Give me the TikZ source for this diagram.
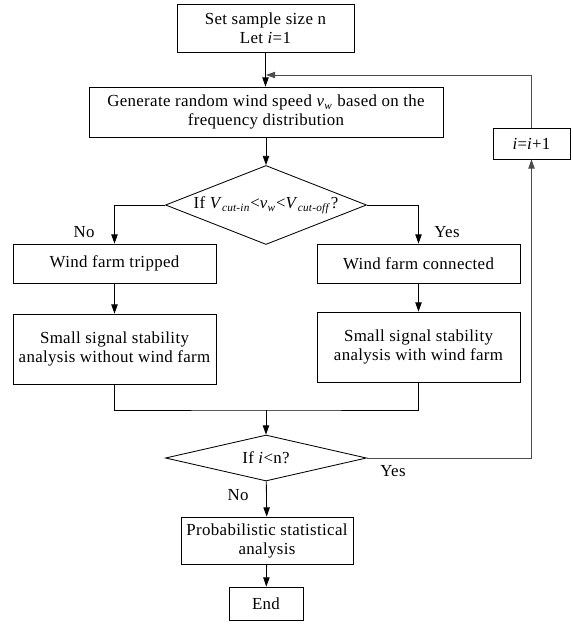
\documentclass[tikz,border=0pt]{standalone}
\usepackage{fontspec}
\setmainfont[LetterSpace=2]{Liberation Serif}
\usetikzlibrary{shapes.geometric, arrows.meta}
\newcommand{\vsub}[2]{\textit{#1}\textsubscript{\textit{#2}}}

\begin{document}
\begin{tikzpicture}[x=0.025cm, y=-0.025cm, line width=0.6pt,
  font=\fontsize{12}{13.5}\selectfont,
  box/.style 2 args={draw, align=center, inner sep=0pt, minimum width=#1*0.025cm, minimum height=#2*0.025cm},
  test/.style 2 args={draw, diamond, aspect=2.5, inner sep=0pt, minimum width=#1*0.025cm, minimum height=#2*0.025cm},
  flow/.style={-{Triangle[length=2.3mm, width=1.6mm]}},
  back/.style={draw=black!70}]
  \useasboundingbox (0,0) rectangle (572,624);

  % main column
  \node[box={177}{48}] (start) at (265.5,28) {Set sample size n\\Let \textit{i}=1};
  \node[box={354}{50}] (gen) at (266,112) {Generate random wind speed \vsub{v}{w} based on the\\frequency distribution};
  \node[test={201}{79}] (dec1) at (266,205) {If \vsub{V}{cut-in}<\vsub{v}{w}<\vsub{V}{cut-off}?};

  % two branches
  \node[box={203}{39}] (trip) at (114.5,263.5) {Wind farm tripped};
  \node[box={203}{70}] (ssaL) at (114.5,349) {Small signal stability\\analysis without wind farm};
  \node[box={203}{39}] (conn) at (418.5,263.5) {Wind farm connected};
  \node[box={203}{70}] (ssaR) at (418.5,347) {Small signal stability\\analysis with wind farm};

  \node[test={201}{46}] (dec2) at (266,458) {If \textit{i}<n?};
  \node[box={172}{47}] (prob) at (267,540.5) {Probabilistic statistical\\analysis};
  \node[box={74}{33}] (end) at (266,603.5) {End};
  \node[box={77}{31}] (inc) at (531.5,143.5) {\textit{i}=\textit{i}+1};

  \node (noA) at (84,232) {No}; \node (yesA) at (447,232) {Yes};
  \node (yesB) at (393,471) {Yes}; \node (noB) at (238,495) {No};

  \coordinate (join) at (266,410); \coordinate (ret) at (266,75);

  \draw[flow] (start.south) -- (start.south |- gen.north);
  \draw[flow] (gen) -- (dec1);
  \draw[flow] (dec1.west) -| (trip.north); \draw[flow] (dec1.east) -| (conn.north);
  \draw[flow] (trip) -- (ssaL); \draw[flow] (conn) -- (ssaR);
  \draw (ssaL.south) |- (join) -| (ssaR.south);
  \draw[flow] (join) -- (dec2);
  \draw[flow] (dec2) -- (prob); \draw[flow] (prob) -- (end);
  \draw[back, flow] (dec2.east) -| (inc.south);
  \draw[back, flow] (inc.north) |- (ret);
\end{tikzpicture}
\end{document}
